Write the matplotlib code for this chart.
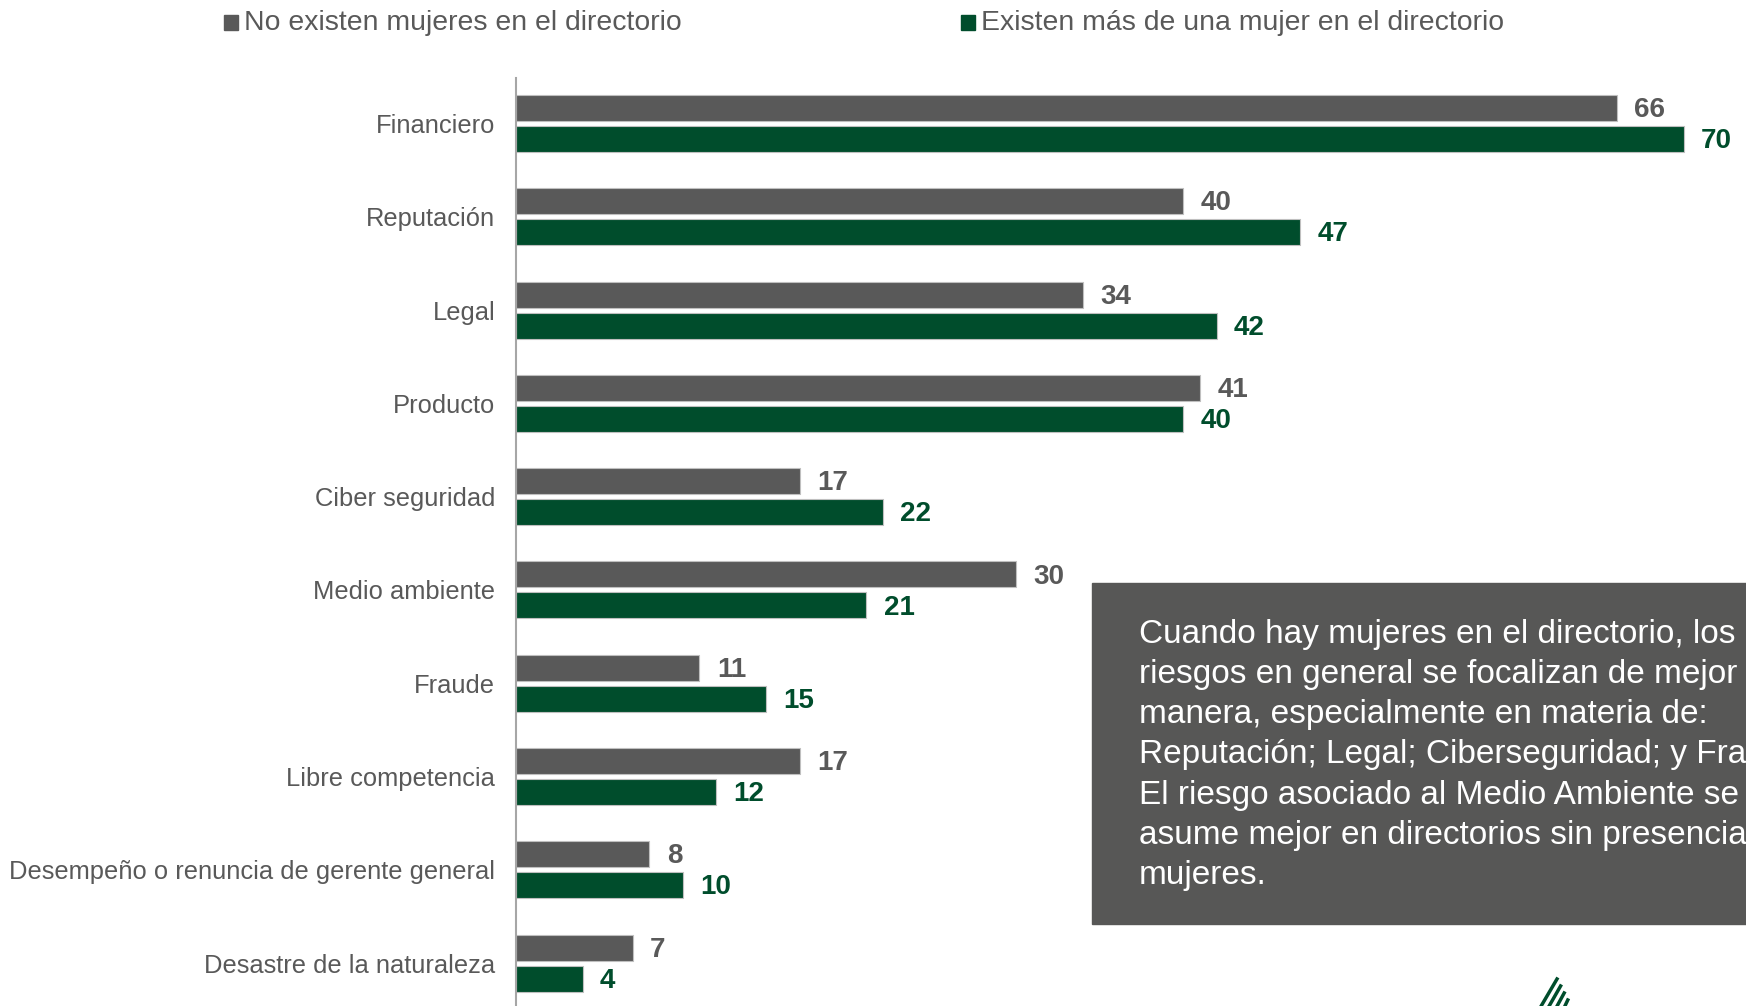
import matplotlib
matplotlib.use("Agg")
import matplotlib.pyplot as plt
from matplotlib.patches import Rectangle
from matplotlib.lines import Line2D

plt.rcParams['font.family'] = ['Liberation Sans', 'DejaVu Sans']

categories = ["Financiero", "Reputación", "Legal", "Producto", "Ciber seguridad",
              "Medio ambiente", "Fraude", "Libre competencia",
              "Desempeño o renuncia de gerente general", "Desastre de la naturaleza"]
no_mujeres = [66, 40, 34, 41, 17, 30, 11, 17, 8, 7]
con_mujeres = [70, 47, 42, 40, 22, 21, 15, 12, 10, 4]
legend_labels = ["No existen mujeres en el directorio",
                 "Existen más de una mujer en el directorio"]
box_text = ("Cuando hay mujeres en el directorio, los\n"
            "riesgos en general se focalizan de mejor\n"
            "manera, especialmente en materia de:\n"
            "Reputación; Legal; Ciberseguridad; y Fraude.\n"
            "El riesgo asociado al Medio Ambiente se\n"
            "asume mejor en directorios sin presencia de\n"
            "mujeres.")

GRAY = "#595959"
GREEN = "#004D2C"
W, H = 1746, 1006

fig = plt.figure(figsize=(W / 100, H / 100), dpi=100)
x0 = 516
ax = fig.add_axes([x0 / W, 0, (W - x0) / W, (H - 78) / H])
ppu = 16.68
ax.set_xlim(0, (W - x0) / ppu)
ax.set_ylim(9.46, -0.488)

ys = list(range(len(categories)))
bh = 0.279
off = 0.166
ax.barh([y - off for y in ys], no_mujeres, height=bh, color=GRAY,
        edgecolor="#bfbfbf", linewidth=0.8)
ax.barh([y + off for y in ys], con_mujeres, height=bh, color=GREEN,
        edgecolor="#bfbfbf", linewidth=0.8)

for y, v in zip(ys, no_mujeres):
    ax.annotate(str(v), (v, y - off), xytext=(12.5, -1.5), textcoords="offset points",
                ha="left", va="center", fontsize=20, fontweight="bold", color=GRAY)
for y, v in zip(ys, con_mujeres):
    ax.annotate(str(v), (v, y + off), xytext=(12.5, -1.5), textcoords="offset points",
                ha="left", va="center", fontsize=20, fontweight="bold", color=GREEN)

ax.set_yticks(ys)
ax.set_yticklabels(categories, fontsize=18.4, color=GRAY)
ax.tick_params(axis="y", length=0, pad=15)
ax.set_xticks([])
for s in ["top", "right", "bottom"]:
    ax.spines[s].set_visible(False)
ax.spines["left"].set_color("#a6a6a6")
ax.spines["left"].set_linewidth(1.5)


def fx(px):
    return px / W


def fy(py):
    return 1 - py / H


# Legend
fig.patches.append(Rectangle((fx(224), fy(30)), 14 / W, 15 / H, transform=fig.transFigure,
                             color=GRAY))
fig.text(fx(244), fy(23), legend_labels[0], fontsize=20.4, color=GRAY, va="center", ha="left")
fig.patches.append(Rectangle((fx(961), fy(30)), 14 / W, 15 / H, transform=fig.transFigure,
                             color=GREEN))
fig.text(fx(981), fy(23), legend_labels[1], fontsize=20.4, color=GRAY, va="center", ha="left")

# Text box
fig.patches.append(Rectangle((fx(1092), fy(924)), (W - 1092 + 50) / W, (924 - 583) / H,
                             transform=fig.transFigure, color="#575756"))
fig.text(fx(1139), fy(755), box_text, fontsize=24, color="white", va="center", ha="left",
         linespacing=1.38)

# Logo fragment
for bx, ty in [(1540, 979), (1548, 986), (1556, 993), (1564, 1000)]:
    dy = 1006 - ty
    fig.lines.append(Line2D([fx(bx), fx(bx + dy * 17 / 27)], [fy(1008), fy(ty)],
                            transform=fig.transFigure, color=GREEN, linewidth=2.5))

fig.savefig("out.png", dpi=100)
